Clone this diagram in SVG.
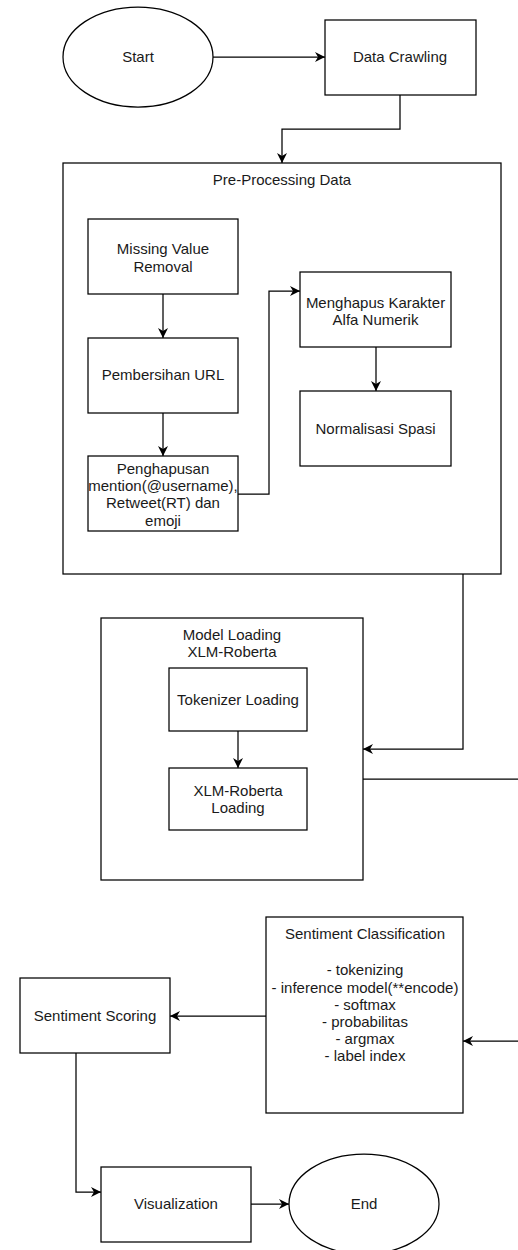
<svg xmlns="http://www.w3.org/2000/svg" width="518" height="1250" viewBox="0 0 518 1250">
<style>
.n{fill:#fff;stroke:#000;stroke-width:1.25}
.c{fill:none;stroke:#000;stroke-width:1.25}
text{font-family:"Liberation Sans",Arial,Helvetica,sans-serif;font-size:15px;fill:#1a1a1a;text-anchor:middle}
</style>
<defs>
<marker id="ah" markerUnits="userSpaceOnUse" markerWidth="12" markerHeight="12" refX="10" refY="5" orient="auto">
<path d="M0,0 L10,5 L0,10 L3,5 Z" fill="#000"/>
</marker>
</defs>
<rect width="518" height="1250" fill="#fff"/>
<g id="pre-processing">
<rect class="n" x="63" y="163" width="438" height="411"/>
<text x="282" y="185">Pre-Processing Data</text>
</g>
<g id="model-loading">
<rect class="n" x="101" y="618" width="262" height="262"/>
<text x="232" y="640">Model Loading</text>
<text x="232" y="657">XLM-Roberta</text>
</g>
<g id="connectors">
<path class="c" d="M213,57 H325" marker-end="url(#ah)"/>
<path class="c" d="M400,95 V129 H282 V163" marker-end="url(#ah)"/>
<path class="c" d="M163,294 V338" marker-end="url(#ah)"/>
<path class="c" d="M163,413 V456" marker-end="url(#ah)"/>
<path class="c" d="M238,494 H269 V291 H300" marker-end="url(#ah)"/>
<path class="c" d="M376,347 V391" marker-end="url(#ah)"/>
<path class="c" d="M463,574 V749 H363" marker-end="url(#ah)"/>
<path class="c" d="M238,731 V768" marker-end="url(#ah)"/>
<path class="c" d="M363,779 H530 V1041 H463" marker-end="url(#ah)"/>
<path class="c" d="M266,1016 H170" marker-end="url(#ah)"/>
<path class="c" d="M76,1053 V1192 H101" marker-end="url(#ah)"/>
<path class="c" d="M251,1204 H289" marker-end="url(#ah)"/>
</g>
<g id="start">
<ellipse class="n" cx="138" cy="57" rx="75" ry="50"/>
<text x="138" y="62">Start</text>
</g>
<g id="data-crawling">
<rect class="n" x="325" y="20" width="151" height="75"/>
<text x="400" y="62">Data Crawling</text>
</g>
<g id="missing-value">
<rect class="n" x="88" y="219" width="150" height="75"/>
<text x="163" y="254">Missing Value</text>
<text x="163" y="272">Removal</text>
</g>
<g id="pembersihan-url">
<rect class="n" x="88" y="338" width="150" height="75"/>
<text x="163" y="380">Pembersihan URL</text>
</g>
<g id="penghapusan">
<rect class="n" x="88" y="456" width="150" height="75"/>
<text x="163" y="474">Penghapusan</text>
<text x="163" y="491">mention(@username),</text>
<text x="163" y="508">Retweet(RT) dan</text>
<text x="163" y="526">emoji</text>
</g>
<g id="menghapus">
<rect class="n" x="300" y="272" width="151" height="75"/>
<text x="375.5" y="308">Menghapus Karakter</text>
<text x="375.5" y="325">Alfa Numerik</text>
</g>
<g id="normalisasi">
<rect class="n" x="300" y="391" width="151" height="75"/>
<text x="375.5" y="434">Normalisasi Spasi</text>
</g>
<g id="tokenizer">
<rect class="n" x="169" y="668" width="138" height="63"/>
<text x="238" y="705">Tokenizer Loading</text>
</g>
<g id="xlm-roberta">
<rect class="n" x="169" y="768" width="138" height="62"/>
<text x="238" y="796">XLM-Roberta</text>
<text x="238" y="813">Loading</text>
</g>
<g id="sentiment-classification">
<rect class="n" x="266" y="917" width="197" height="196"/>
<text x="365" y="939">Sentiment Classification</text>
<text x="365" y="975">- tokenizing</text>
<text x="365" y="992.5">- inference model(**encode)</text>
<text x="365" y="1009.5">- softmax</text>
<text x="365" y="1027">- probabilitas</text>
<text x="365" y="1044">- argmax</text>
<text x="365" y="1061">- label index</text>
</g>
<g id="sentiment-scoring">
<rect class="n" x="20" y="978" width="150" height="75"/>
<text x="95" y="1021">Sentiment Scoring</text>
</g>
<g id="visualization">
<rect class="n" x="101" y="1167" width="150" height="75"/>
<text x="176" y="1209">Visualization</text>
</g>
<g id="end">
<ellipse class="n" cx="364" cy="1204" rx="75" ry="50"/>
<text x="364" y="1209">End</text>
</g>
</svg>
